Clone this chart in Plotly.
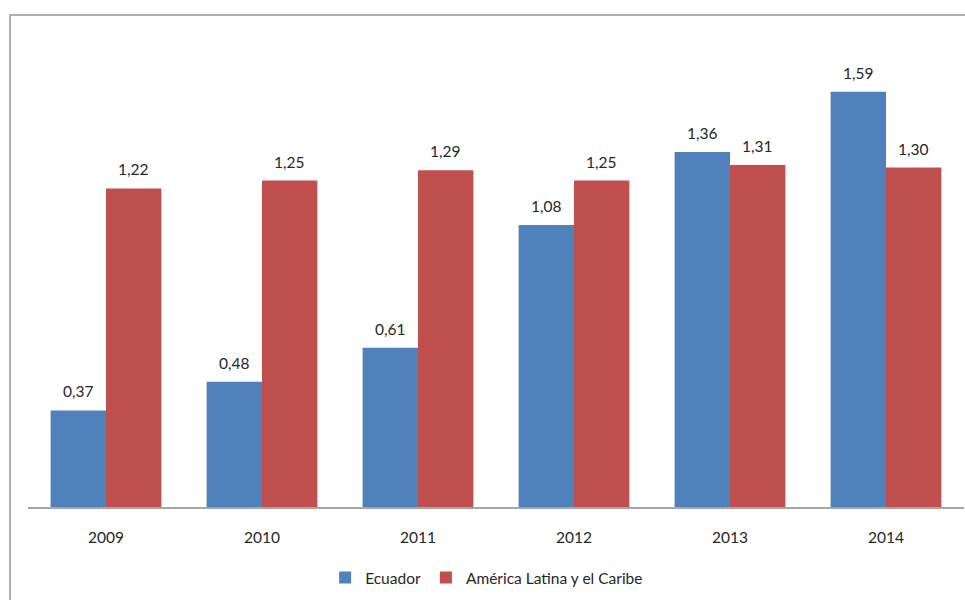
import plotly.graph_objects as go

years = ["2009", "2010", "2011", "2012", "2013", "2014"]
ecuador = [0.37, 0.48, 0.61, 1.08, 1.36, 1.59]
alc = [1.22, 1.25, 1.29, 1.25, 1.31, 1.30]

font_family = "Lato, 'Open Sans', sans-serif"
txt_color = "#262626"
fs = 15.5

W, H = 965, 600
left, right_px, top, bottom = 28, 964, 37, 507
pw, ph = right_px - left, bottom - top
bargap = 0.29
cat_px = pw / len(years)
bar_px = cat_px * (1 - bargap) / 2

fig = go.Figure()
fig.add_trace(go.Bar(name="Ecuador", x=years, y=ecuador, marker=dict(color="#4F81BD", line=dict(width=0))))
fig.add_trace(go.Bar(name="América Latina y el Caribe", x=years, y=alc,
                     marker=dict(color="#C0504D", line=dict(width=0))))

annotations = []
for series, sign in ((ecuador, -1), (alc, 1)):
    for i, v in enumerate(series):
        annotations.append(dict(x=i, y=v, xref="x", yref="y", text=f"{v:.2f}".replace(".", ","),
                                showarrow=False, xshift=sign * bar_px / 2, yshift=19,
                                yanchor="middle", xanchor="center",
                                font=dict(size=fs, color=txt_color, family=font_family)))

fig.update_layout(
    width=W, height=H,
    margin=dict(l=left, r=W - right_px, t=top, b=H - bottom, autoexpand=False),
    paper_bgcolor="white", plot_bgcolor="white",
    barmode="group", bargap=bargap, bargroupgap=0,
    font=dict(family=font_family, size=fs, color=txt_color),
    showlegend=True,
    legend=dict(orientation="h", x=0.49, xanchor="center", y=(bottom - 578) / ph, yanchor="middle",
                font=dict(size=fs, color=txt_color), itemwidth=30, traceorder="normal"),
    xaxis=dict(type="category", range=[-0.5, len(years) - 0.5], showline=True, linecolor="#a6a6a6",
               linewidth=1.5, ticks="", tickfont=dict(size=fs, color=txt_color),
               ticklabelstandoff=16, showgrid=False),
    yaxis=dict(range=[0, 1.8], visible=False, showgrid=False),
    annotations=annotations,
    shapes=[dict(type="rect", xref="paper", yref="paper",
                 x0=(10 - left) / pw, x1=2, y0=-1, y1=(bottom - 15) / ph,
                 line=dict(color="#b0b0b0", width=2), fillcolor="rgba(0,0,0,0)", layer="below")],
)

fig.write_html("out.html")
